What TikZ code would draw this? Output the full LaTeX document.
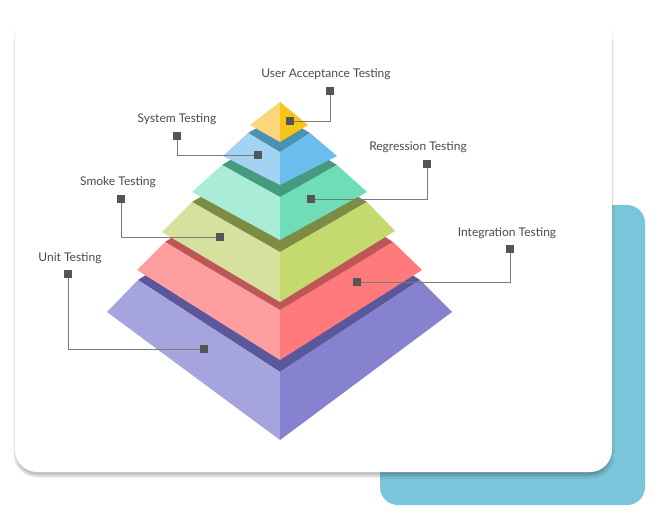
\documentclass[tikz,border=0pt]{standalone}
\usepackage{fontspec}
\setmainfont{Lato}
\usetikzlibrary{shadows.blur}
\definecolor{txt}{HTML}{4A4A4A}
\definecolor{mk}{HTML}{555555}
\definecolor{ln}{HTML}{7A7A7A}
\definecolor{teal}{HTML}{7BC5DA}
\tikzset{
  lbl/.style={font=\fontsize{12}{14}\selectfont, text=txt, inner sep=0pt},
  marker/.style={fill=mk, minimum size=8pt, inner sep=0pt},
  lead/.style={draw=ln, line width=1pt},
}
\newcommand{\layer}[9]{%
 \fill[#9dark] #1 -- #2 -- #3 -- #4 -- cycle;
 \fill[#9left] #5 -- #1 -- #2 -- #6 -- cycle;
 \fill[#9right] #7 -- #3 -- #2 -- #6 -- cycle;
}
\definecolor{pudark}{HTML}{5A579A}\definecolor{puleft}{HTML}{A6A4DF}\definecolor{puright}{HTML}{8782D0}
\definecolor{redark}{HTML}{BF5656}\definecolor{releft}{HTML}{FF9E9E}\definecolor{reright}{HTML}{FF7A7A}
\definecolor{ygdark}{HTML}{7C8C45}\definecolor{ygleft}{HTML}{D6E19D}\definecolor{ygright}{HTML}{C4D96E}
\definecolor{tedark}{HTML}{469A80}\definecolor{teleft}{HTML}{A9EDD8}\definecolor{teright}{HTML}{6FDDB8}
\definecolor{bldark}{HTML}{4A92B2}\definecolor{blleft}{HTML}{A3D3F2}\definecolor{blright}{HTML}{6ABDEC}
\definecolor{yeleft}{HTML}{FDD57A}\definecolor{yeright}{HTML}{F5C518}
\begin{document}
\begin{tikzpicture}[x=1pt,y=-1pt]
\useasboundingbox (0,0) rectangle (664,525);
\fill[teal, rounded corners=18pt] (380,205) rectangle (645,505);
\fill[white, rounded corners=22pt, blur shadow={shadow blur steps=12, shadow xshift=0pt, shadow yshift=-4pt, shadow opacity=25}] (15,15) rectangle (612,472);
\layer{(138,280)}{(280,372)}{(420,280)}{(280,190)}{(107,312)}{(280,440)}{(452,312)}{}{pu}
\layer{(165,242)}{(280,310)}{(393,242)}{(280,170)}{(137,270)}{(280,360)}{(422,270)}{}{re}
\layer{(192,202)}{(280,252)}{(367,202)}{(280,150)}{(162,232)}{(280,302)}{(395,231)}{}{yg}
\layer{(222,165)}{(280,197)}{(337,165)}{(280,130)}{(192,192)}{(280,240)}{(367,192)}{}{te}
\layer{(248,133)}{(280,152)}{(310,133)}{(280,115)}{(223,156)}{(280,185)}{(337,156)}{}{bl}
\fill[yeleft] (250,125) -- (280,102) -- (280,142) -- cycle;
\fill[yeright] (308,125) -- (280,102) -- (280,142) -- cycle;
\node[lbl] (tua) at (326,74) {User Acceptance Testing};
\node[lbl] (tst) at (177,119) {System Testing};
\node[lbl] (tre) at (418,147) {Regression Testing};
\node[lbl] (tsm) at (118,182) {Smoke Testing};
\node[lbl] (tin) at (507,233) {Integration Testing};
\node[lbl] (tun) at (70,258) {Unit Testing};
\node[marker] (a1) at (330,91) {}; \node[marker] (a2) at (290,121) {};
\node[marker] (b1) at (177,136) {}; \node[marker] (b2) at (258,155) {};
\node[marker] (c1) at (427,164) {}; \node[marker] (c2) at (311,199) {};
\node[marker] (d1) at (121,199) {}; \node[marker] (d2) at (220,237) {};
\node[marker] (e1) at (510,249) {}; \node[marker] (e2) at (357,282) {};
\node[marker] (f1) at (68,274) {}; \node[marker] (f2) at (204,349) {};
\draw[lead] (a1) |- (a2);
\draw[lead] (b1) |- (b2);
\draw[lead] (c1) |- (c2);
\draw[lead] (d1) |- (d2);
\draw[lead] (e1) |- (e2);
\draw[lead] (f1) |- (f2);
\end{tikzpicture}
\end{document}
